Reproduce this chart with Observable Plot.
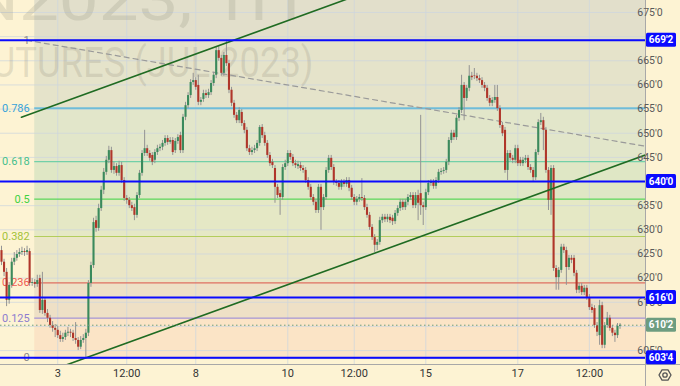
<!DOCTYPE html>
<html><head><meta charset="utf-8">
<script src="https://cdn.jsdelivr.net/npm/d3@7"></script>
<script src="https://cdn.jsdelivr.net/npm/@observablehq/plot@0.6"></script>
<style>html,body{margin:0;padding:0;background:#fdf3d3;} svg{display:block}</style>
</head><body><div id="chart"></div>
<script>
// ---- hourly candles (bar index = position) ----
const openP = [625.7,623.3,621.2,615.4,618.5,623.3,624.1,624.9,625.3,625.5,
625.3,625.5,618.9,619.1,618.7,619.9,613.3,615.4,612.7,611.7,
610.2,609.6,609.2,608.1,607.3,607.7,608.6,608.8,608.6,607.5,
607.1,605.7,607.1,607.5,608.6,618.9,622.6,631.9,630.3,634.4,
638.2,641.9,644.4,646.4,642.3,643.1,641.7,643.3,640.2,636.5,
636.1,635.0,634.6,633.0,637.1,641.7,645.8,646.8,645.8,645.4,
644.4,646.0,646.8,647.1,647.9,648.9,648.1,648.5,646.4,648.3,
649.5,646.4,653.3,655.7,657.8,660.5,660.9,659.9,656.4,657.0,
658.2,657.8,658.4,660.3,662.0,667.1,665.5,662.4,666.1,664.4,
658.9,656.2,653.7,652.6,654.3,652.0,650.6,646.8,646.0,646.4,
646.8,647.9,651.2,649.5,647.9,645.4,644.0,642.7,638.8,637.5,
636.7,642.9,643.7,645.8,645.0,643.7,643.1,643.3,642.7,642.3,
640.2,638.8,636.7,635.7,634.0,638.8,634.6,636.7,642.3,644.8,
642.9,639.8,639.6,638.8,639.8,639.4,640.2,638.6,636.7,635.7,
636.3,636.7,636.5,634.6,633.0,630.5,628.4,626.8,627.4,631.9,
632.6,632.1,632.6,632.4,631.7,633.4,634.4,635.7,634.6,635.7,
636.7,637.1,635.0,637.1,637.5,635.0,634.6,637.7,639.6,639.8,
639.0,640.2,641.9,642.1,642.3,644.0,648.5,650.0,649.1,653.1,
654.7,659.9,657.2,659.3,661.8,661.9,661.8,661.3,660.9,659.9,
659.3,657.2,656.2,656.8,657.4,655.1,651.6,650.6,642.3,645.8,
644.8,644.4,646.8,644.4,643.7,644.4,644.8,642.9,642.3,640.8,
646.0,652.2,652.6,650.6,642.3,636.1,642.7,622.0,620.1,621.6,
626.4,625.7,622.2,624.1,624.1,621.0,617.5,618.3,617.0,617.9,
616.0,613.9,613.7,610.2,608.1,614.3,606.1,610.2,611.7,609.6,
608.6,608.1,610.0];
const highP = [626.6,623.9,622.0,619.1,624.1,625.3,625.7,626.1,626.4,626.1,
626.6,626.1,619.9,619.7,620.6,620.6,621.2,615.8,613.5,612.3,
611.0,610.4,610.0,609.0,608.6,609.2,609.8,609.4,609.2,610.8,
607.7,607.9,608.3,609.4,619.5,623.3,632.4,632.8,635.3,639.0,
642.7,645.2,647.3,647.1,644.0,643.7,644.2,644.0,640.8,637.1,
636.7,635.7,635.3,637.7,642.3,646.4,650.6,647.5,646.4,646.0,
646.6,647.5,647.7,648.5,649.5,649.5,649.1,649.1,648.9,649.7,
650.2,653.9,656.4,658.4,661.1,662.4,661.5,662.0,657.4,658.9,
658.9,659.1,660.9,662.6,667.8,668.0,666.1,666.7,669.25,665.1,
659.5,656.8,654.3,655.3,654.9,652.6,651.2,647.5,647.1,647.5,
648.5,651.6,651.8,650.2,648.5,646.0,644.6,643.3,639.4,638.2,
643.5,644.4,646.4,646.4,645.6,644.4,644.2,644.0,643.3,642.9,
640.8,639.4,637.3,636.3,639.4,639.4,637.3,642.9,645.4,645.4,
643.5,640.4,640.2,640.4,640.4,640.8,640.8,639.2,637.3,636.9,
637.3,640.6,637.1,635.3,633.6,631.1,629.0,628.0,632.6,633.2,
633.2,633.2,633.2,633.0,634.0,635.0,636.3,636.3,636.3,637.3,
637.7,637.7,637.7,638.2,653.7,635.7,638.4,640.2,640.4,640.4,
640.8,642.5,642.7,642.9,644.6,649.1,650.6,650.6,653.7,655.3,
662.0,660.5,659.9,664.0,662.6,663.4,662.4,662.0,661.5,660.5,
659.9,657.8,657.4,659.9,659.9,655.7,652.2,651.2,646.4,646.4,
645.4,647.5,647.5,645.0,645.0,645.4,645.4,643.5,642.9,646.6,
652.8,654.1,653.3,651.2,642.9,643.3,643.3,622.6,622.2,627.0,
627.0,626.4,624.7,624.7,624.7,621.6,618.9,618.9,618.5,618.5,
616.6,614.6,614.3,610.8,615.4,615.0,610.8,612.9,612.3,610.2,
609.2,610.6,610.6];
const lowP = [622.6,620.3,614.1,614.6,617.9,622.6,623.5,624.3,624.7,624.5,
624.7,618.3,618.3,617.9,618.1,612.7,612.5,612.1,610.8,609.6,
608.8,607.7,607.5,606.7,606.7,607.1,607.9,607.7,606.9,606.3,
605.0,605.2,606.5,603.5,607.9,618.1,622.0,629.5,629.7,633.8,
637.3,641.3,643.7,641.7,641.5,641.1,641.1,639.6,635.9,635.3,
634.4,633.8,631.9,632.4,636.5,641.1,645.2,645.2,644.2,643.3,
643.7,645.4,646.2,646.4,647.3,647.5,647.7,645.4,645.8,647.7,
645.8,645.8,652.6,655.1,657.2,659.9,658.9,655.7,655.7,656.4,
657.2,657.2,657.8,659.7,661.3,664.9,661.8,661.8,663.8,658.2,
655.5,653.1,652.0,652.0,651.4,649.9,646.2,645.4,645.4,645.8,
646.2,647.3,648.9,647.3,644.8,643.1,642.7,635.5,636.5,633.0,
636.1,642.3,643.1,644.4,643.1,642.7,642.5,642.1,641.7,639.6,
638.2,636.1,635.0,633.4,633.4,629.9,634.0,636.1,641.7,642.3,
639.2,639.0,638.2,638.2,638.8,638.8,637.9,636.1,635.0,635.0,
635.7,635.9,634.0,632.4,629.9,627.8,625.3,625.7,626.8,631.3,
631.5,631.5,631.3,630.9,631.1,632.8,633.8,634.0,634.0,635.0,
636.1,634.4,634.4,631.9,633.0,630.9,634.0,637.1,639.0,638.4,
638.4,639.6,641.3,641.5,641.7,643.3,647.9,648.5,648.5,652.4,
654.1,652.6,656.6,658.6,660.9,661.1,660.7,660.3,659.3,658.6,
656.6,655.5,655.5,656.2,654.5,651.0,649.3,641.7,640.2,644.2,
643.7,643.7,643.1,643.1,643.1,643.7,642.3,641.7,639.8,640.2,
645.4,651.6,646.4,641.7,634.0,633.0,621.4,617.5,617.5,621.0,
625.1,618.5,621.6,623.0,620.3,616.8,616.8,616.4,616.4,615.4,
613.3,612.7,609.6,607.9,606.1,605.4,605.4,609.6,609.0,607.9,
606.7,607.5,609.4];
const closeP = [623.3,621.2,615.4,618.5,623.3,624.1,624.9,625.3,625.5,625.3,
625.7,618.9,619.1,618.7,619.5,613.3,615.4,612.7,611.7,610.2,
609.6,609.2,608.1,607.3,607.7,608.6,608.8,608.6,607.5,607.1,
605.7,607.1,607.5,608.6,618.9,622.6,631.5,630.3,634.4,638.2,
641.9,644.4,646.4,642.3,643.1,641.7,643.3,640.2,636.5,636.1,
635.0,634.4,633.0,637.1,641.7,645.8,646.8,645.8,644.8,644.0,
646.0,646.8,647.1,647.9,648.9,648.1,648.5,646.0,648.3,649.1,
646.4,653.3,655.7,657.8,660.5,660.9,659.5,656.4,656.8,658.2,
657.8,658.4,660.3,662.0,667.1,665.5,662.4,666.1,664.4,658.9,
656.2,653.7,652.6,654.7,652.0,650.6,646.8,646.0,646.4,646.8,
647.9,651.2,649.5,647.9,645.4,643.7,643.3,638.8,637.1,636.7,
642.9,643.7,645.8,645.0,643.7,643.3,643.5,642.7,642.3,640.2,
638.8,636.7,635.7,634.0,638.8,634.6,636.7,642.3,644.8,642.9,
639.8,639.6,638.8,639.8,639.4,640.2,638.6,636.7,635.7,636.3,
636.7,636.5,634.6,633.0,630.5,628.4,626.8,627.4,631.9,632.6,
632.1,632.6,631.9,631.7,633.4,634.4,635.7,634.6,635.7,636.7,
637.1,635.0,637.1,635.5,635.0,634.6,637.7,639.6,639.8,639.0,
640.2,641.9,642.1,642.3,644.0,648.5,650.0,649.1,653.1,654.7,
659.9,657.2,659.3,661.8,661.5,661.8,661.3,660.9,659.9,659.3,
657.2,656.2,656.8,657.4,655.1,651.6,649.9,642.3,645.8,644.8,
644.4,646.8,643.7,643.7,644.4,644.8,642.9,642.3,640.8,646.0,
652.2,652.6,650.6,642.3,636.1,642.7,622.0,620.1,621.6,626.4,
625.7,622.2,624.1,623.7,621.0,617.5,618.3,617.0,617.9,616.0,
613.9,613.3,610.2,608.8,614.3,606.1,610.2,611.7,609.6,608.6,
608.1,610.0,610.25];

// ---- axes ----
const xTickBars = [22, 49, 76, 112, 138, 166, 202, 230];
const xTickLabels = ["3", "12:00", "8", "10", "12:00", "15", "17", "12:00"];
const priceTicks = [675, 670, 665, 660, 655, 650, 645, 640, 635, 630, 625, 620, 615, 610, 605];
const priceLabelTicks = [675, 665, 660, 655, 650, 645, 635, 630, 625, 620, 615, 605];

// ---- fibonacci retracement ----
const fibLow = 603.5, fibHigh = 669.25, fibStartBar = 13;
const fibRatios = [0, 0.125, 0.236, 0.382, 0.5, 0.618, 0.786, 1];
const fibLabels = ["0", "0.125", "0.236", "0.382", "0.5", "0.618", "0.786", "1"];
const fibLineColors = ["#9c9c9c", "#a394d4", "#de6f60", "#b3cd5c", "#58d658", "#72d0a8", "#6fbcd9", "#9c9c9c"];
const fibTextColors = ["#8a8a8a", "#8d7dcf", "#f05a50", "#a2c23a", "#3fd23f", "#45c08d", "#38a2da", "#8a8a8a"];
const fibBandFills = ["#fbe4c6", "#eee0c6", "#eae6c6", "#e5e8c5", "#dfe7c5", "#e2e6ca", "#e5e3ca", "#e2dfcb"];

// ---- drawings ----
const hLevels = [669.25, 640, 616, 603.5];
const hLabels = ["669'2", "640'0", "616'0", "603'4"];
const lastPrice = 610.25, lastLabel = "610'2";
const trendUpper = [[7.8, 653.3], [140, 678.7]];
const trendLower = [[20, 601.0], [252, 645.5]];
const dashedLine = [[9.8, 669.25], [252, 647.3]];
const watermark1 = "ZCN2023, 1H";
const watermark2 = "CORN FUTURES (JUL 2023)";

const bars = openP.map((o, i) => ({i, o, h: highP[i], l: lowP[i], c: closeP[i]}));
const fib = fibRatios.map((r, k) => ({r, p: fibLow + r * (fibHigh - fibLow), label: fibLabels[k], line: fibLineColors[k], text: fibTextColors[k]}));
const bands = fib.map((f, k) => ({y1: f.p, y2: k < fib.length - 1 ? fib[k + 1].p : 690, fill: fibBandFills[k]}));

const overlay = (index, scales, values, dimensions) => {
  const {width, height, marginRight, marginBottom} = dimensions;
  const xr = width - marginRight, yb = height - marginBottom;
  const g = d3.create("svg:g");
  g.append("line").attr("x1", 0).attr("x2", width).attr("y1", yb + 0.5).attr("y2", yb + 0.5).attr("stroke", "#a8a8a8");
  g.append("line").attr("x1", xr + 0.5).attr("x2", xr + 0.5).attr("y1", 0).attr("y2", height).attr("stroke", "#a8a8a8");
  // price scale labels (drawn under the badges)
  for (const p of priceLabelTicks) {
    g.append("text").attr("x", xr + 5).attr("y", scales.y(p)).attr("dy", "0.36em").attr("fill", "#5a5a5a")
      .attr("font-size", 10.5).attr("font-family", "Roboto, sans-serif").text(`${p}'0`);
  }
  const items = hLevels.map((p, k) => ({p, label: hLabels[k], bg: "#0a0aff"})).concat([{p: lastPrice, label: lastLabel, bg: "#6d9d80"}]);
  for (const it of items) {
    const y = scales.y(it.p);
    g.append("rect").attr("x", xr + 1).attr("y", y - 7).attr("width", 30).attr("height", 14).attr("fill", it.bg).attr("rx", 1.5);
    g.append("text").attr("x", xr + 16).attr("y", y).attr("dy", "0.36em").attr("text-anchor", "middle").attr("fill", "white")
      .attr("font-size", 10).attr("font-weight", "bold").attr("font-family", "Roboto, sans-serif").text(it.label);
  }
  const gx = xr + 20, gy = yb + 11;
  const hex = d3.range(6).map(k => [gx + 6 * Math.cos(Math.PI / 3 * k), gy + 6 * Math.sin(Math.PI / 3 * k)]);
  g.append("path").attr("d", "M" + hex.join("L") + "Z").attr("fill", "none").attr("stroke", "#555").attr("stroke-width", 1.3).attr("stroke-linejoin", "round");
  g.append("circle").attr("cx", gx).attr("cy", gy).attr("r", 2.2).attr("fill", "none").attr("stroke", "#555").attr("stroke-width", 1.3);
  return g.node();
};

const chart = Plot.plot({
  width: 680, height: 386,
  marginTop: 0, marginLeft: 0, marginRight: 35, marginBottom: 22,
  x: {domain: [-0.39, 251.96], ticks: xTickBars, tickFormat: d => xTickLabels[xTickBars.indexOf(d)], tickSize: 0, tickPadding: 5, label: null},
  y: {domain: [602.12, 677.48], axis: null},
  color: {type: "identity"},
  style: {background: "#fdf3d3", fontFamily: "Roboto, sans-serif", fontSize: "10.5px", color: "#555"},
  marks: [
    Plot.rect(bands, {x1: fibStartBar, x2: 260, y1: "y1", y2: "y2", fill: "fill", clip: true}),
    Plot.ruleY(priceTicks, {stroke: "#cdd5de", strokeOpacity: 0.75}),
    Plot.ruleX(xTickBars, {stroke: "#cdd5de", strokeOpacity: 0.75}),
    Plot.text([watermark1], {frameAnchor: "top-left", dx: 300, dy: -25, textAnchor: "end", lineAnchor: "top", fontSize: 62, fill: "#8f8c7c", fillOpacity: 0.22}),
    Plot.text([watermark2], {frameAnchor: "top-left", dx: 313, dy: 47, textAnchor: "end", lineAnchor: "top", fontSize: 42, fill: "#8f8c7c", fillOpacity: 0.22}),
    Plot.ruleY(fib, {y: "p", x1: fibStartBar, x2: 260, stroke: "line", strokeWidth: d => d.r === 0.786 ? 2 : 1.2, clip: true}),
    Plot.text(fib, {x: fibStartBar, y: "p", text: "label", fill: "text", textAnchor: "end", dx: -5, fontSize: 11}),
    Plot.line(dashedLine, {x: d => d[0], y: d => d[1], stroke: "#9a9a9a", strokeWidth: 1.2, strokeDasharray: "5,4", clip: true}),
    Plot.ruleX(bars, {x: "i", y1: "l", y2: "h", stroke: "#939393", strokeWidth: 1}),
    Plot.ruleX(bars, {x: "i", y1: "o", y2: "c", stroke: d => d.c >= d.o ? "#3a8a5c" : "#b0362a", strokeWidth: 2.1}),
    Plot.line(trendUpper, {x: d => d[0], y: d => d[1], stroke: "#1f6b22", strokeWidth: 1.6, clip: true}),
    Plot.line(trendLower, {x: d => d[0], y: d => d[1], stroke: "#1f6b22", strokeWidth: 1.6, clip: true}),
    Plot.ruleY(hLevels, {stroke: "#0a0aff", strokeWidth: 2}),
    Plot.ruleY([lastPrice], {stroke: "#6d9d80", strokeDasharray: "1.5,2.5"}),
    overlay
  ]
});
const svg = d3.select(chart);
svg.selectAll("text").filter(function() { return this.textContent === watermark2; })
  .attr("textLength", 448).attr("lengthAdjust", "spacingAndGlyphs");
svg.selectAll("text").filter(function() { return this.textContent === watermark1; })
  .attr("textLength", 420).attr("lengthAdjust", "spacingAndGlyphs");
svg.selectAll('[aria-label="x-axis"] text, [aria-label="x-axis tick label"] text').attr("fill", "#333").style("font-size", "11px");
document.getElementById("chart").appendChild(chart);
</script>
</body></html>
